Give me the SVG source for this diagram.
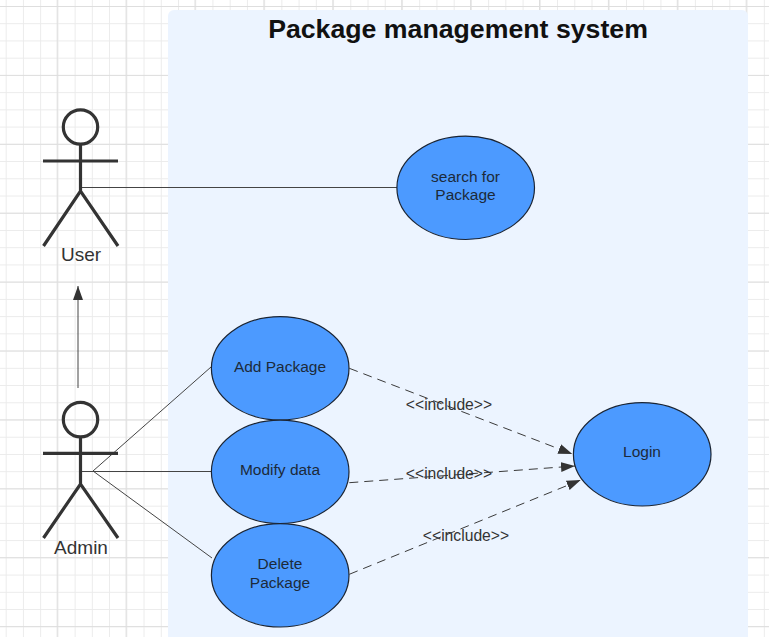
<svg xmlns="http://www.w3.org/2000/svg" width="769" height="637" viewBox="0 0 769 637">
<style>
text{font-family:"Liberation Sans",Arial,sans-serif;text-anchor:middle}
.uc{fill:#4c9aff;stroke:#1a2433;stroke-width:1.2}
.ut{font-size:15.500px;fill:#1c2a3a}
.al{font-size:19px;fill:#333}
.fig{fill:none;stroke:#333;stroke-width:3.2}
.ln{fill:none;stroke:#444;stroke-width:1}
.dash{fill:none;stroke:#3a3a3a;stroke-width:1;stroke-dasharray:9 6}
.inc{font-size:15.700px;fill:#333}
</style>
<defs>
<marker id="arr" markerUnits="userSpaceOnUse" markerWidth="16" markerHeight="12" refX="14" refY="5" orient="auto">
<path d="M0 0L14 5L0 10Z" fill="#333"/>
</marker>
<pattern id="minor" patternUnits="userSpaceOnUse" x="5.700" y="6" width="17.230" height="17.230">
<path d="M0.500 0V17.230M0 0.500H17.230" stroke="#ebebeb" stroke-width="1" fill="none"/>
</pattern>
<pattern id="major" patternUnits="userSpaceOnUse" x="56.700" y="6" width="68.900" height="68.900">
<path d="M0.500 0V68.900M0 0.500H68.900" stroke="#dedede" stroke-width="1.200" fill="none"/>
</pattern>
</defs>
<rect width="769" height="637" fill="#fff"/>
<rect width="769" height="637" fill="url(#minor)"/>
<rect width="769" height="637" fill="url(#major)"/>
<g id="system">
<path d="M168 16a6 6 0 0 1 6-6H742a6 6 0 0 1 6 6V637H168Z" fill="#ecf4ff"/>
<text x="458" y="38" font-size="26.700" font-weight="bold" fill="#111">Package management system</text>
</g>
<g id="connectors">
<path class="ln" d="M82 187.500H397"/>
<path class="ln" d="M78 388V286" marker-end="url(#arr)"/>
<path class="ln" d="M93 471L211 367"/>
<path class="ln" d="M82 471.500H211"/>
<path class="ln" d="M93 471L212 558"/>
<path class="dash" d="M349.300 368.300L572.300 454" marker-end="url(#arr)"/>
<path class="dash" d="M349.300 482.700L575 466" marker-end="url(#arr)"/>
<path class="dash" d="M349.300 574.300L580.700 480" marker-end="url(#arr)"/>
<text class="inc" x="449" y="410">&lt;&lt;include&gt;&gt;</text>
<text class="inc" x="449" y="478.500">&lt;&lt;include&gt;&gt;</text>
<text class="inc" x="466" y="541">&lt;&lt;include&gt;&gt;</text>
</g>
<g id="user">
<circle class="fig" cx="80.500" cy="127" r="17.200"/>
<path class="fig" d="M80.500 145V191M43 161H118M43.500 246L80.500 191L118 246"/>
<text class="al" x="81" y="261">User</text>
</g>
<g id="admin">
<circle class="fig" cx="80.500" cy="419.600" r="17.200"/>
<path class="fig" d="M80.500 437V484M43 453.300H118M43.500 538L80.500 484L118 538"/>
<text class="al" x="81" y="554">Admin</text>
</g>
<g id="search">
<ellipse class="uc" cx="465.700" cy="187.800" rx="68.800" ry="51.700"/>
<text class="ut" x="465.500" y="182">search for</text>
<text class="ut" x="465.500" y="200">Package</text>
</g>
<g id="add">
<ellipse class="uc" cx="280.200" cy="368.300" rx="68.800" ry="51.700"/>
<text class="ut" x="280" y="372">Add Package</text>
</g>
<g id="modify">
<ellipse class="uc" cx="280.200" cy="471.800" rx="68.800" ry="51.700"/>
<text class="ut" x="280" y="475">Modify data</text>
</g>
<g id="delete">
<ellipse class="uc" cx="280.200" cy="575.300" rx="68.800" ry="51.700"/>
<text class="ut" x="280" y="569">Delete</text>
<text class="ut" x="280" y="588">Package</text>
</g>
<g id="login">
<ellipse class="uc" cx="642.200" cy="454.300" rx="68.800" ry="51.700"/>
<text class="ut" x="642" y="457">Login</text>
</g>
</svg>
